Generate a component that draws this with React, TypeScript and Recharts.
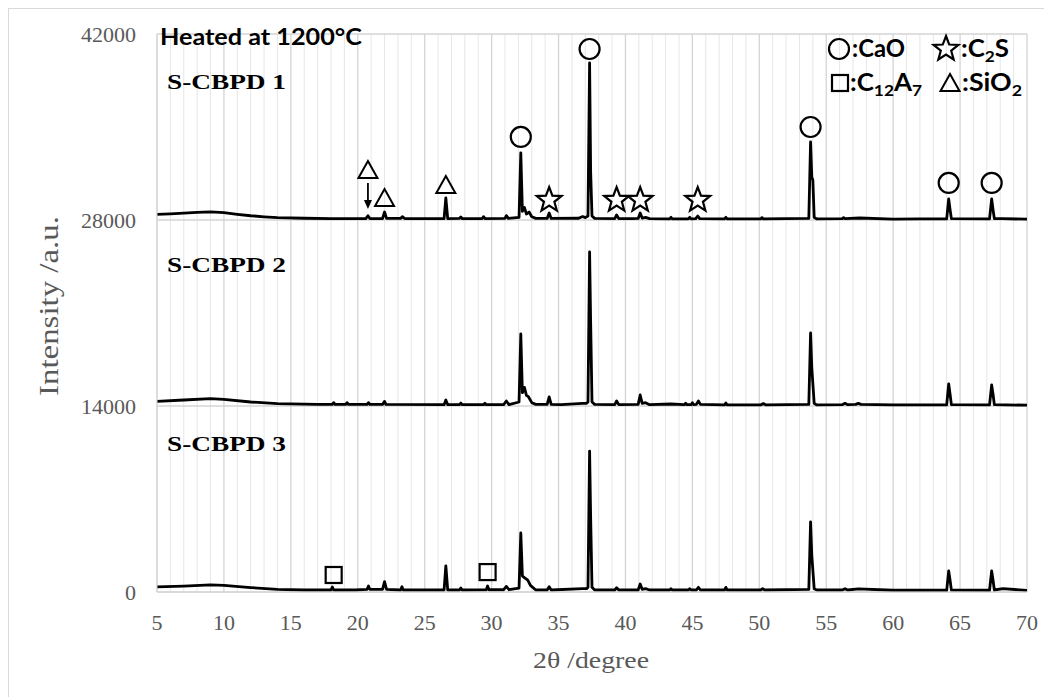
import React from 'react';
import { ComposedChart, Line, Scatter, XAxis, YAxis, CartesianGrid } from 'recharts';

// ---------- axis ticks ----------
const xTicks = [5, 10, 15, 20, 25, 30, 35, 40, 45, 50, 55, 60, 65, 70];
const xMinorTicks = [6, 7, 8, 9, 11, 12, 13, 14, 16, 17, 18, 19, 21, 22, 23, 24, 26, 27, 28, 29, 31, 32, 33, 34, 36, 37, 38, 39, 41, 42, 43, 44, 46, 47, 48, 49, 51, 52, 53, 54, 56, 57, 58, 59, 61, 62, 63, 64, 66, 67, 68, 69];
const yTicks = [0, 14000, 28000, 42000];

// ---------- XRD patterns: [2θ, intensity (offset included)] ----------
const sCBPD1: [number, number][] = [
  [5, 28420], [6, 28460], [7, 28510], [8, 28570], [9, 28610], [10, 28560], [11, 28430], [12, 28320], [13, 28240], [14, 28180], [16, 28130], [18, 28100],
  [20.6, 28100], [20.76, 28320], [20.9, 28110], [21.85, 28110], [22.0, 28600], [22.15, 28120], [23.2, 28120], [23.35, 28250], [23.5, 28110],
  [26.45, 28100], [26.58, 29660], [26.72, 28100], [27.6, 28120], [27.7, 28230], [27.8, 28100], [29.3, 28110], [29.4, 28250], [29.5, 28110],
  [31.0, 28120], [31.1, 28330], [31.25, 28120], [32.05, 28200], [32.18, 33050], [32.3, 28650], [32.45, 28950], [32.6, 28450], [32.8, 28600], [33.0, 28250], [33.3, 28120],
  [34.15, 28120], [34.3, 28530], [34.45, 28120], [36.5, 28130], [36.8, 28260], [37.0, 28180], [37.2, 28300], [37.32, 39820], [37.4, 31600], [37.5, 28300], [37.7, 28120],
  [39.2, 28100], [39.34, 28380], [39.5, 28100], [40.5, 28100], [40.95, 28120], [41.1, 28530], [41.25, 28150], [41.5, 28200], [41.8, 28100],
  [43.3, 28080], [43.4, 28200], [43.5, 28080], [44.7, 28090], [44.8, 28200], [44.9, 28090], [45.25, 28100], [45.4, 28300], [45.55, 28100],
  [47.4, 28080], [47.5, 28200], [47.6, 28080], [50.1, 28080], [50.2, 28180], [50.3, 28080],
  [53.7, 28120], [53.83, 33870], [53.92, 31250], [54.0, 31000], [54.1, 28200], [54.3, 28080],
  [56.2, 28100], [56.3, 28180], [56.4, 28100], [57.5, 28150], [60, 28060], [62, 28080],
  [64.0, 28080], [64.15, 29580], [64.25, 28800], [64.35, 28100], [67.2, 28080], [67.36, 29580], [67.46, 28800], [67.56, 28100], [68.2, 28100], [70, 28060],
];

const sCBPD2: [number, number][] = [
  [5, 14350], [7, 14450], [9, 14560], [10, 14500], [12, 14300], [14, 14180], [17, 14120], [18.1, 14120], [18.2, 14250], [18.3, 14120],
  [19.1, 14120], [19.2, 14250], [19.3, 14120], [20.7, 14120], [20.8, 14250], [20.9, 14120], [21.85, 14120], [22.0, 14350], [22.1, 14120],
  [26.45, 14100], [26.58, 14450], [26.72, 14100], [27.6, 14100], [27.7, 14220], [27.8, 14100], [29.4, 14100], [29.5, 14200], [29.6, 14100],
  [30.9, 14100], [31.1, 14380], [31.3, 14100], [32.05, 14300], [32.18, 19420], [32.3, 15000], [32.45, 15400], [32.6, 14800], [32.75, 14700], [33.0, 14250], [33.3, 14120],
  [34.15, 14120], [34.3, 14680], [34.45, 14120], [35.2, 14100], [36.8, 14200], [37.1, 14200], [37.2, 14300], [37.32, 25590], [37.4, 20250], [37.5, 14300], [37.7, 14120],
  [39.2, 14100], [39.34, 14380], [39.5, 14100], [40.95, 14120], [41.1, 14830], [41.25, 14200], [41.5, 14250], [41.8, 14100],
  [43.4, 14150], [44.4, 14100], [44.5, 14200], [44.6, 14100], [44.9, 14100], [45.0, 14250], [45.1, 14100], [45.3, 14120], [45.45, 14380], [45.6, 14120],
  [47.4, 14080], [47.5, 14230], [47.6, 14080], [50.1, 14080], [50.3, 14180], [50.5, 14080],
  [53.7, 14120], [53.83, 19500], [53.92, 16900], [54.1, 14200], [54.3, 14080],
  [56.2, 14100], [56.4, 14200], [56.6, 14100], [57.2, 14120], [57.4, 14200], [57.6, 14120], [60, 14080],
  [64.0, 14080], [64.15, 15660], [64.25, 14900], [64.35, 14100], [67.2, 14080], [67.36, 15580], [67.46, 14900], [67.56, 14100], [70, 14060],
];

const sCBPD3: [number, number][] = [
  [5, 380], [7, 440], [9, 540], [10, 500], [12, 330], [14, 200], [16, 150], [18.0, 150], [18.1, 380], [18.2, 150],
  [19.8, 150], [20.7, 200], [20.8, 450], [20.9, 200], [21.85, 200], [22.0, 780], [22.15, 200], [23.2, 150], [23.3, 400], [23.4, 150],
  [26.45, 150], [26.58, 1960], [26.72, 150], [27.6, 150], [27.7, 300], [27.8, 150], [29.6, 170], [29.7, 450], [29.8, 170],
  [30.9, 170], [31.1, 420], [31.3, 170], [32.05, 300], [32.18, 4440], [32.3, 1200], [32.5, 1050], [32.7, 900], [32.9, 500], [33.3, 150],
  [34.15, 150], [34.3, 400], [34.45, 150], [36.8, 250], [37.1, 250], [37.2, 350], [37.32, 10610], [37.4, 5570], [37.5, 350], [37.7, 150],
  [39.2, 150], [39.34, 320], [39.5, 150], [40.95, 150], [41.1, 600], [41.25, 200], [41.5, 250], [41.8, 150],
  [43.3, 150], [43.4, 250], [43.5, 150], [44.7, 150], [44.8, 250], [44.9, 150], [45.3, 150], [45.45, 350], [45.6, 150],
  [47.4, 150], [47.5, 350], [47.6, 150], [50.1, 150], [50.25, 250], [50.4, 150],
  [53.7, 200], [53.83, 5270], [53.92, 2780], [54.1, 250], [54.3, 150],
  [56.2, 150], [56.4, 250], [56.6, 150], [57.4, 230], [60, 130],
  [64.0, 130], [64.15, 1580], [64.25, 900], [64.35, 150], [67.2, 130], [67.36, 1580], [67.46, 900], [67.56, 150], [68.2, 250], [70, 120],
];

// ---------- phase markers: [2θ, marker position] ----------
const caoMarks: [number, number][] = [[32.18, 34250], [37.32, 40870], [53.83, 35000], [64.15, 30790], [67.36, 30790]];
const c2sMarks: [number, number][] = [[34.3, 29500], [39.34, 29500], [41.1, 29500], [45.4, 29500]];
const sio2Marks: [number, number][] = [[26.58, 30640], [20.76, 31760], [22.0, 29660]];
const c12a7Marks: [number, number][] = [[18.2, 1280], [29.7, 1500]];
const arrowMarks: [number, number][] = [[20.76, 30790]];

const rows = (arr: [number, number][]) => arr.map(([x, y]) => ({ x, y }));

const SERIF = '"Liberation Serif", "Times New Roman", serif';
const SANS = 'Lato, "Open Sans", sans-serif';
const GRAY = '#595959';

const circleShape = (p: any) => <circle cx={p.cx} cy={p.cy} r={10} fill="none" stroke="#000" strokeWidth={2.2} />;
const starPoints = (cx: number, cy: number, R: number, r: number) => {
  const pts: string[] = [];
  for (let i = 0; i < 10; i++) {
    const a = (-90 + i * 36) * Math.PI / 180;
    const rad = i % 2 === 0 ? R : r;
    pts.push(`${cx + rad * Math.cos(a)},${cy + rad * Math.sin(a)}`);
  }
  return pts.join(' ');
};
const starShape = (p: any) => <polygon points={starPoints(p.cx, p.cy, 13, 5.5)} fill="none" stroke="#000" strokeWidth={2.2} strokeLinejoin="miter" />;
const triShape = (p: any) => <polygon points={`${p.cx},${p.cy - 9} ${p.cx + 9.5},${p.cy + 8} ${p.cx - 9.5},${p.cy + 8}`} fill="none" stroke="#000" strokeWidth={2} />;
const squareShape = (p: any) => <rect x={p.cx - 8} y={p.cy - 8} width={16} height={16} fill="none" stroke="#000" strokeWidth={2.2} />;
const arrowShape = (p: any) => (
  <g>
    <line x1={p.cx} y1={p.cy} x2={p.cx} y2={p.cy + 19} stroke="#000" strokeWidth={1.8} />
    <polygon points={`${p.cx - 4},${p.cy + 17} ${p.cx + 4},${p.cy + 17} ${p.cx},${p.cy + 26}`} fill="#000" />
  </g>
);

const Sub = ({ children }: { children: React.ReactNode }) => (
  <tspan dy={5} fontSize={16}>{children}</tspan>
);

export default function App() {
  const W = 1044;
  const H = 689;
  const tickStyle = { fill: GRAY, fontSize: 22, fontFamily: SERIF };
  return (
    <div style={{ position: 'relative', width: W, height: H }}>
      <div style={{ position: 'absolute', left: -1, top: -1, width: 1045, height: 690, borderLeft: '2px solid #d9d9d9', borderTop: '2px solid #d9d9d9', boxSizing: 'border-box' }} />
      <ComposedChart width={W} height={H} margin={{ top: 26, right: 25, bottom: 75, left: 0 }}>
        <CartesianGrid horizontal={false} verticalValues={xMinorTicks} stroke="#e6e6e6" strokeWidth={1} />
        <CartesianGrid stroke="#d4d4d4" strokeWidth={1.3} />
        <XAxis dataKey="x" type="number" domain={[5, 70]} ticks={xTicks} allowDataOverflow height={30}
          axisLine={{ stroke: '#d4d4d4' }} tickLine={false} tickSize={6} tickMargin={16}
          tick={tickStyle} interval={0} />
        <YAxis type="number" domain={[0, 42000]} ticks={yTicks} width={149}
          axisLine={{ stroke: '#d4d4d4' }} tickLine={false} tickSize={6} tickMargin={15}
          tick={tickStyle} interval={0} />
        <Line data={rows(sCBPD1)} dataKey="y" type="linear" stroke="#000" strokeWidth={2.8} dot={false} isAnimationActive={false} strokeLinejoin="round" />
        <Line data={rows(sCBPD2)} dataKey="y" type="linear" stroke="#000" strokeWidth={2.8} dot={false} isAnimationActive={false} strokeLinejoin="round" />
        <Line data={rows(sCBPD3)} dataKey="y" type="linear" stroke="#000" strokeWidth={2.8} dot={false} isAnimationActive={false} strokeLinejoin="round" />
        <Scatter data={rows(caoMarks)} dataKey="y" shape={circleShape} isAnimationActive={false} />
        <Scatter data={rows(c2sMarks)} dataKey="y" shape={starShape} isAnimationActive={false} />
        <Scatter data={rows(sio2Marks)} dataKey="y" shape={triShape} isAnimationActive={false} />
        <Scatter data={rows(c12a7Marks)} dataKey="y" shape={squareShape} isAnimationActive={false} />
        <Scatter data={rows(arrowMarks)} dataKey="y" shape={arrowShape} isAnimationActive={false} />
      </ComposedChart>
      <svg width={W} height={H} style={{ position: 'absolute', left: 0, top: 0, pointerEvents: 'none' }}>
        <text x={152} y={37} fontFamily={SANS} fontWeight={700} fontSize={23} fill="#000" textLength={202} lengthAdjust="spacingAndGlyphs">Heated at 1200°C</text>
        <text x={159} y={81} fontFamily={SERIF} fontWeight={700} fontSize={22} fill="#000" textLength={119} lengthAdjust="spacingAndGlyphs">S-CBPD 1</text>
        <text x={159} y={264} fontFamily={SERIF} fontWeight={700} fontSize={22} fill="#000" textLength={119} lengthAdjust="spacingAndGlyphs">S-CBPD 2</text>
        <text x={159} y={443} fontFamily={SERIF} fontWeight={700} fontSize={22} fill="#000" textLength={119} lengthAdjust="spacingAndGlyphs">S-CBPD 3</text>
        {/* legend */}
        <circle cx={831} cy={41} r={10} fill="none" stroke="#000" strokeWidth={2.2} />
        <text x={844} y={49} fontFamily={SANS} fontWeight={700} fontSize={24} fill="#000" textLength={53} lengthAdjust="spacingAndGlyphs">:CaO</text>
        <polygon points={starPoints(938, 41, 13, 5.5)} fill="none" stroke="#000" strokeWidth={2.2} />
        <text x={953} y={49} fontFamily={SANS} fontWeight={700} fontSize={24} fill="#000" textLength={48} lengthAdjust="spacingAndGlyphs">:C<Sub>2</Sub><tspan dy={-5}>S</tspan></text>
        <rect x={824} y={67} width={16} height={16} fill="none" stroke="#000" strokeWidth={2.2} />
        <text x={842} y={83} fontFamily={SANS} fontWeight={700} fontSize={24} fill="#000" textLength={72} lengthAdjust="spacingAndGlyphs">:C<Sub>12</Sub><tspan dy={-5}>A</tspan><Sub>7</Sub></text>
        <polygon points={`942,66 951.5,83 932.5,83`} fill="none" stroke="#000" strokeWidth={2} />
        <text x={954} y={83} fontFamily={SANS} fontWeight={700} fontSize={24} fill="#000" textLength={60} lengthAdjust="spacingAndGlyphs">:SiO<Sub>2</Sub></text>
        {/* axis titles */}
        <text x={583} y={660} textAnchor="middle" fontFamily={SERIF} fontSize={24} fill={GRAY} textLength={116} lengthAdjust="spacingAndGlyphs">2θ /degree</text>
        <text transform="translate(50,298) scale(1.15,1) rotate(-90)" x={0} y={0} textAnchor="middle" fontFamily={SERIF} fontSize={24} fill={GRAY} textLength={180} lengthAdjust="spacingAndGlyphs">Intensity /a.u.</text>
      </svg>
    </div>
  );
}
